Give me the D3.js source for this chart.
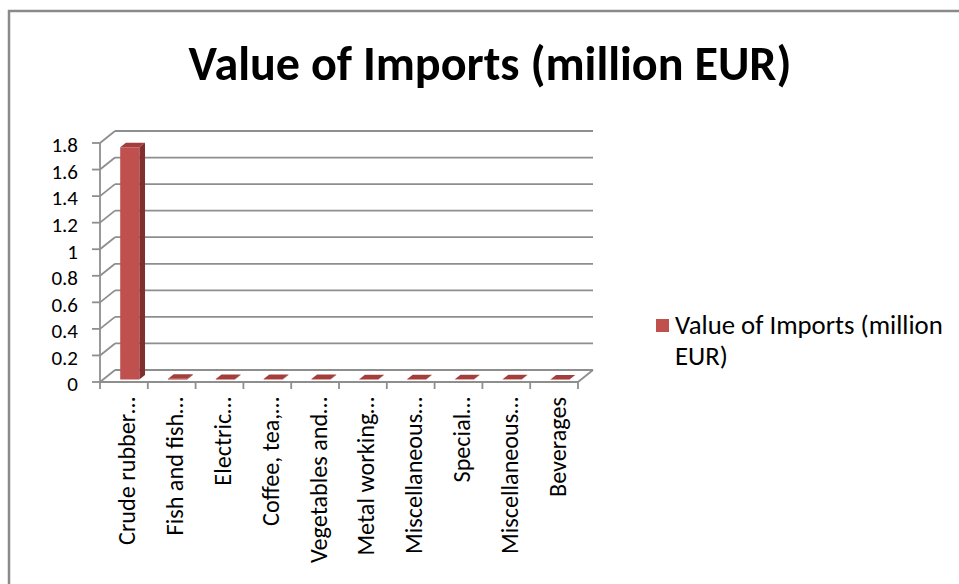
<!DOCTYPE html>
<html>
<head>
<meta charset="utf-8">
<script src="https://cdn.jsdelivr.net/npm/d3@7"></script>
<style>
  html, body { margin: 0; padding: 0; background: #fff; }
  svg { display: block; }
  text { font-family: Carlito, Lato, "Liberation Sans", sans-serif; fill: #000; }
</style>
</head>
<body>
<svg id="chart" width="959" height="584"></svg>
<script>
// Chart data
const title = "Value of Imports (million EUR)";
const seriesName = "Value of Imports (million EUR)";
const categories = [
  "Crude rubber…", "Fish and fish…", "Electric…", "Coffee, tea,…",
  "Vegetables and…", "Metal working…", "Miscellaneous…", "Special…",
  "Miscellaneous…", "Beverages"
];
const values = [1.75, 0.006, 0.005, 0.004, 0.004, 0.003, 0.003, 0.002, 0.002, 0.001];
const yTicks = [0, 0.2, 0.4, 0.6, 0.8, 1, 1.2, 1.4, 1.6, 1.8];

const svg = d3.select("#chart");
const W = 959, H = 584;

// Plot geometry: front plane and depth offset of the 3D box
const plot = { left: 100, right: 578, top: 143, bottom: 382 };
const depth = { dx: 15, dy: -12 };
const barDepth = { z0: 0.2, z1: 0.58 };

const gridColor = "#8e8e8e";
const barFront = "#C0504D", barSide = "#7F2F2D", barTop = "#A23E3B";

// Categories repeat, so the band scale is keyed by position
const idx = categories.map((c, i) => i);
const x = d3.scaleBand().domain(idx).range([plot.left, plot.right]);
const y = d3.scaleLinear().domain([0, 1.8]).range([plot.bottom, plot.top]);

// Fit a text element's font size so that it spans a target width
function fitText(sel, target) {
  const base = parseFloat(sel.attr("font-size"));
  const w = sel.node().getComputedTextLength();
  const size = base * target / w;
  sel.attr("font-size", size);
  return size;
}

// Outer chart border
svg.append("rect")
  .attr("x", 9).attr("y", 11).attr("width", W + 20).attr("height", H + 20)
  .attr("fill", "none").attr("stroke", "#8a8a8a").attr("stroke-width", 2.5);

// Title
const t = svg.append("text")
  .attr("x", 490).attr("y", 80)
  .attr("text-anchor", "middle")
  .attr("font-weight", "bold")
  .attr("font-size", 40)
  .text(title);
fitText(t, 603);

const g = svg.append("g");

// Back wall gridlines
g.selectAll("line.grid").data(yTicks).join("line")
  .attr("class", "grid")
  .attr("x1", plot.left + depth.dx).attr("x2", plot.right + depth.dx)
  .attr("y1", d => y(d) + depth.dy).attr("y2", d => y(d) + depth.dy)
  .attr("stroke", gridColor).attr("stroke-width", 1.8);

// Side wall diagonals
g.selectAll("line.side").data(yTicks).join("line")
  .attr("class", "side")
  .attr("x1", plot.left).attr("x2", plot.left + depth.dx)
  .attr("y1", d => y(d)).attr("y2", d => y(d) + depth.dy)
  .attr("stroke", gridColor).attr("stroke-width", 1.8);

// Floor front edge and right edge
g.append("line")
  .attr("x1", plot.left).attr("x2", plot.right)
  .attr("y1", y(0)).attr("y2", y(0))
  .attr("stroke", gridColor).attr("stroke-width", 1.8);
g.append("line")
  .attr("x1", plot.right).attr("x2", plot.right + depth.dx)
  .attr("y1", y(0)).attr("y2", y(0) + depth.dy)
  .attr("stroke", gridColor).attr("stroke-width", 1.8);

// Vertical axis line
g.append("line")
  .attr("x1", plot.left).attr("x2", plot.left)
  .attr("y1", y(1.8)).attr("y2", y(0) + 1)
  .attr("stroke", gridColor).attr("stroke-width", 1.8);

// Vertical axis ticks and labels
g.selectAll("line.ytick").data(yTicks).join("line")
  .attr("class", "ytick")
  .attr("x1", plot.left - 8).attr("x2", plot.left)
  .attr("y1", d => y(d)).attr("y2", d => y(d))
  .attr("stroke", gridColor).attr("stroke-width", 1.8);

g.selectAll("text.ylab").data(yTicks).join("text")
  .attr("class", "ylab")
  .attr("x", 78)
  .attr("y", d => y(d) + 2)
  .attr("dy", "0.35em")
  .attr("text-anchor", "end")
  .attr("font-size", 21)
  .text(d => d3.format("")(d));

// Category ticks along the floor front edge
const bounds = idx.map(i => x(i)).concat([plot.right]);
g.selectAll("line.xtick").data(bounds).join("line")
  .attr("class", "xtick")
  .attr("x1", d => d).attr("x2", d => d)
  .attr("y1", y(0)).attr("y2", y(0) + 7)
  .attr("stroke", gridColor).attr("stroke-width", 1.8);

// Category labels, rotated
const xLabels = g.selectAll("text.xlab").data(idx).join("text")
  .attr("class", "xlab")
  .attr("text-anchor", "end")
  .attr("font-size", 20)
  .attr("transform", i => `translate(${x(i) + x.bandwidth() / 2 + 3},397) rotate(-90)`)
  .attr("dy", "0.35em")
  .text(i => categories[i]);
const xSize = fitText(xLabels.filter(i => i === 0), 148);
xLabels.attr("font-size", xSize);

// 3D bars: top, side and front faces
const bw = x.bandwidth();
const bars = g.selectAll("g.bar").data(idx.map(i => ({ i, v: values[i] })))
  .join("g").attr("class", "bar");

function pt(px, py, z) { return [px + z * depth.dx, py + z * depth.dy]; }

bars.each(function(d) {
  const sel = d3.select(this);
  const x0 = x(d.i) + bw * 0.36, x1 = x0 + bw * 0.4;
  const yb = y(0), yt = y(d.v);
  const { z0, z1 } = barDepth;
  const line = d3.line();
  // top face
  sel.append("path")
    .attr("d", line([pt(x0, yt, z0), pt(x1, yt, z0), pt(x1, yt, z1), pt(x0, yt, z1)]) + "Z")
    .attr("fill", barTop);
  // side face
  sel.append("path")
    .attr("d", line([pt(x1, yt, z0), pt(x1, yt, z1), pt(x1, yb, z1), pt(x1, yb, z0)]) + "Z")
    .attr("fill", barSide);
  // front face
  sel.append("path")
    .attr("d", line([pt(x0, yt, z0), pt(x1, yt, z0), pt(x1, yb, z0), pt(x0, yb, z0)]) + "Z")
    .attr("fill", barFront);
});

// Legend
const lg = svg.append("g");
lg.append("rect")
  .attr("x", 656).attr("y", 319).attr("width", 13).attr("height", 13)
  .attr("fill", barFront);
const words = seriesName.split(" ");
const l1 = lg.append("text")
  .attr("x", 675).attr("y", 334)
  .attr("font-size", 20)
  .text(words.slice(0, 4).join(" "));
const lSize = fitText(l1, 268);
lg.append("text")
  .attr("x", 675).attr("y", 365)
  .attr("font-size", lSize)
  .text(words.slice(4).join(" "));
</script>
</body>
</html>
